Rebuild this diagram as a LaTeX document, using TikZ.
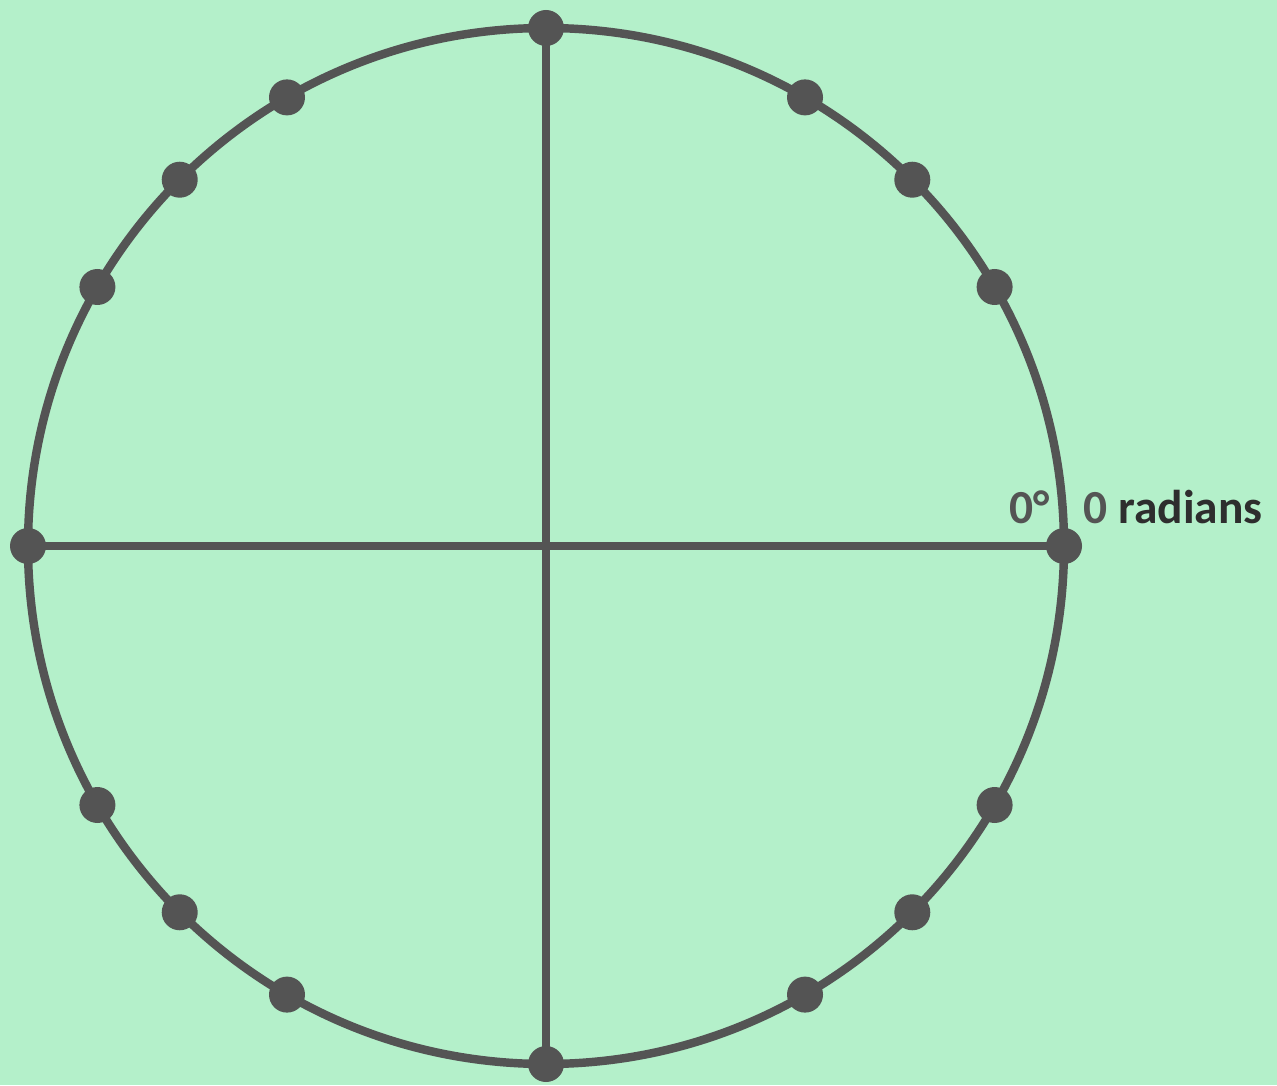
\documentclass[tikz,border=0pt]{standalone}
\usepackage{fontspec}
\setmainfont{Carlito}
\usetikzlibrary{positioning,calc}

\definecolor{paper}{HTML}{B4F0CA}
\definecolor{ink}{HTML}{545454}
\definecolor{textdark}{HTML}{2E2E2E}

\begin{document}
\begin{tikzpicture}[
  rim/.style={draw=ink, line width=2.4pt},
  axis/.style={draw=ink, line width=2.4pt},
  dot/.style={circle, fill=ink, inner sep=0pt, minimum size=0.36cm},
  lbl/.style={font=\fontsize{13.5}{16}\selectfont\bfseries, inner sep=0pt}
]
% Background and frame
\fill[paper] (0,0) rectangle (12.77,10.85);
\useasboundingbox (0,0) rectangle (12.77,10.85);
\coordinate (O) at (5.46,5.39);

% Unit circle
\draw[rim] (O) circle (5.18);

% Points on the circle
\foreach \a in {0,30,45,60,90,120,135,150,180,210,225,240,270,300,315,330}
  \node[dot] (d\a) at ($(O)+(\a:5.18)$) {};

% Axes
\draw[axis] (d180.center) -- (d0.center);
\draw[axis] (d90.center) -- (d270.center);

% Labels at zero
\node[lbl, text=ink, anchor=base] (deg) at (10.30,5.62) {0°};
\node[lbl, anchor=base west] (rad) at (10.83,5.62) {\textcolor{ink}{0} \textcolor{textdark}{radians}};
\end{tikzpicture}
\end{document}
